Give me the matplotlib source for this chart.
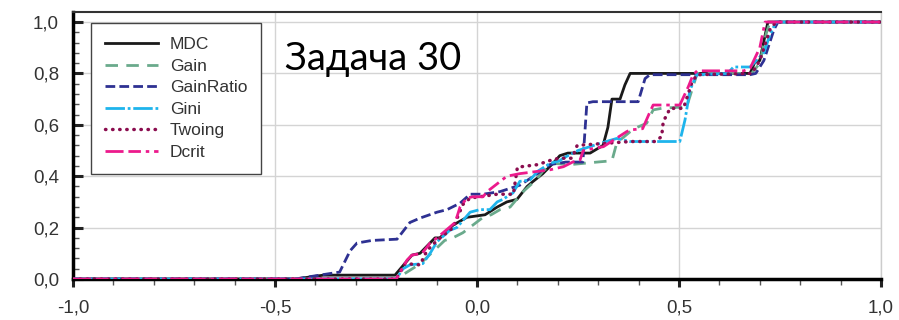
import matplotlib
matplotlib.use('Agg')
import matplotlib.pyplot as plt
from matplotlib.ticker import MultipleLocator

# curves (x, y)
mdc_x = [-1, -0.45, -0.38, -0.203, -0.161, -0.141, -0.104, -0.092, -0.059, -0.025, 0.02, 0.05, 0.074, 0.099, 0.124, 0.139,
         0.163, 0.188, 0.205, 0.225, 0.28, 0.312, 0.324, 0.334, 0.354, 0.366, 0.379, 0.676, 0.688, 0.70, 0.72, 1]
mdc_y = [0, 0, 0.015, 0.015, 0.093, 0.10, 0.16, 0.16, 0.21, 0.24, 0.25, 0.28, 0.30, 0.31, 0.36, 0.38,
         0.41, 0.45, 0.48, 0.49, 0.49, 0.52, 0.59, 0.70, 0.70, 0.755, 0.80, 0.80, 0.845, 0.85, 1.0, 1.0]

gain_x = [-1, -0.2, -0.17, -0.14, -0.12, -0.10, -0.08, -0.06, -0.035, -0.01, 0.015, 0.035, 0.057, 0.082, 0.114, 0.146, 0.163,
          0.189, 0.23, 0.304, 0.334, 0.346, 0.379, 0.396, 0.42, 0.436, 0.46, 0.519, 0.535, 0.545, 0.68, 0.70, 0.715, 0.725, 1]
gain_y = [0, 0, 0.03, 0.06, 0.09, 0.12, 0.15, 0.16, 0.18, 0.21, 0.24, 0.25, 0.27, 0.28, 0.34, 0.385, 0.42,
          0.45, 0.445, 0.456, 0.46, 0.53, 0.573, 0.59, 0.606, 0.658, 0.665, 0.67, 0.75, 0.80, 0.80, 0.84, 0.95, 1.0, 1.0]

gr_x = [-1, -0.45, -0.41, -0.34, -0.314, -0.297, -0.26, -0.198, -0.166, -0.141, -0.099, -0.074, -0.042, -0.017, 0.015, 0.057,
        0.106, 0.15, 0.18, 0.22, 0.262, 0.272, 0.287, 0.399, 0.416, 0.428, 0.676, 0.69, 0.71, 0.735, 0.745, 1]
gr_y = [0, 0, 0.01, 0.027, 0.11, 0.14, 0.15, 0.155, 0.22, 0.237, 0.26, 0.27, 0.295, 0.33, 0.33, 0.34,
        0.365, 0.41, 0.445, 0.455, 0.455, 0.685, 0.69, 0.69, 0.78, 0.795, 0.795, 0.80, 0.85, 0.97, 1.0, 1.0]

gini_x = [-1, -0.2, -0.183, -0.166, -0.134, -0.116, -0.099, -0.067, -0.05, -0.017, 0.007, 0.032, 0.05, 0.064, 0.089, 0.106, 0.131, 0.151,
          0.181, 0.205, 0.213, 0.25, 0.305, 0.346, 0.379, 0.502, 0.515, 0.527, 0.544, 0.62, 0.635, 0.676, 0.71, 0.725, 0.74, 1]
gini_y = [0, 0, 0.04, 0.055, 0.06, 0.10, 0.145, 0.19, 0.20, 0.26, 0.27, 0.27, 0.30, 0.31, 0.335, 0.38, 0.385, 0.42,
          0.45, 0.46, 0.47, 0.50, 0.528, 0.547, 0.535, 0.535, 0.62, 0.735, 0.795, 0.80, 0.825, 0.825, 0.88, 0.95, 1.0, 1.0]

twoing_x = [-1, -0.2, -0.178, -0.141, -0.124, -0.099, -0.059, -0.035, -0.017, 0.007, 0.05, 0.09, 0.10, 0.15, 0.188, 0.205,
            0.235, 0.248, 0.38, 0.44, 0.457, 0.461, 0.478, 0.511, 0.531, 0.544, 0.68, 0.70, 0.725, 0.74, 1]
twoing_y = [0, 0, 0.06, 0.055, 0.11, 0.15, 0.20, 0.29, 0.315, 0.32, 0.33, 0.33, 0.435, 0.445, 0.465, 0.47,
            0.47, 0.52, 0.535, 0.535, 0.554, 0.612, 0.664, 0.664, 0.76, 0.795, 0.80, 0.85, 0.97, 1.0, 1.0]

dcrit_x = [-1, -0.2, -0.173, -0.161, -0.136, -0.116, -0.099, -0.054, -0.042, -0.025, -0.01, 0.015, 0.025, 0.074, 0.106, 0.181, 0.214, 0.238,
           0.255, 0.263, 0.288, 0.313, 0.37, 0.379, 0.41, 0.428, 0.436, 0.502, 0.523, 0.535, 0.545, 0.66, 0.676, 0.70, 0.713, 1]
dcrit_y = [0, 0, 0.074, 0.093, 0.10, 0.14, 0.16, 0.22, 0.28, 0.315, 0.32, 0.32, 0.34, 0.40, 0.41, 0.425, 0.437, 0.456,
           0.463, 0.50, 0.508, 0.515, 0.573, 0.58, 0.585, 0.65, 0.677, 0.677, 0.748, 0.795, 0.81, 0.81, 0.82, 0.90, 1.0, 1.0]

xticks = [-1, -0.5, 0, 0.5, 1]
xtick_labels = ['-1,0', '-0,5', '0,0', '0,5', '1,0']
yticks = [0, 0.2, 0.4, 0.6, 0.8, 1.0]
ytick_labels = ['0,0', '0,2', '0,4', '0,6', '0,8', '1,0']

plt.rcParams['lines.scale_dashes'] = False
plt.rcParams['font.family'] = ['Liberation Sans', 'DejaVu Sans']

fig = plt.figure(figsize=(8.99, 3.2), dpi=100)
ax = fig.add_axes([73/899, 1-279/320, 808/899, 267/320])

ax.plot(mdc_x, mdc_y, color='#1a1a1a', lw=2.0, label='MDC', zorder=3)
ax.plot(gain_x, gain_y, color='#6aaa8c', lw=2.0, ls=(0, (9, 6)), label='Gain', zorder=3)
ax.plot(gr_x, gr_y, color='#2e3192', lw=2.0, ls=(0, (7, 3)), label='GainRatio', zorder=3)
ax.plot(gini_x, gini_y, color='#1eb4ec', lw=2.0, ls=(0, (14, 2, 2, 2)), label='Gini', zorder=3)
ax.plot(twoing_x, twoing_y, color='#8b0d4f', lw=2.5, ls=(0, (0.3, 4.8)), dash_capstyle='round',
        label='Twoing', zorder=3)
ax.plot(dcrit_x, dcrit_y, color='#ec1a8c', lw=2.0, ls=(0, (13, 3.5, 9, 3.5, 2.5, 3.5)), label='Dcrit', zorder=3)

ax.set_xlim(-1, 1)
ax.set_ylim(0, 1.039)
ax.set_xticks(xticks)
ax.set_xticklabels(xtick_labels)
ax.set_yticks(yticks)
ax.set_yticklabels(ytick_labels)
ax.xaxis.set_minor_locator(MultipleLocator(0.1))
ax.yaxis.set_minor_locator(MultipleLocator(0.04))
ax.grid(True, which='major', color='#d4d4d4', lw=1.0, zorder=0)
ax.set_axisbelow(True)

ax.tick_params(axis='x', which='major', direction='out', length=6, width=2.2, colors='#222222',
               labelsize=13.5, labelcolor='#333333', pad=9)
ax.tick_params(axis='x', which='minor', direction='out', length=4, width=1, colors='#555555')
ax.tick_params(axis='y', which='major', direction='in', length=7, width=2.2, colors='#222222',
               labelsize=13.5, labelcolor='#333333', pad=10)
ax.tick_params(axis='y', which='minor', direction='in', length=4, width=1, colors='#555555')

ax.spines['left'].set_linewidth(2.5)
ax.spines['bottom'].set_linewidth(2.5)
ax.spines['top'].set_linewidth(1.5)
ax.spines['top'].set_color('#333333')
ax.spines['right'].set_color('#cccccc')
ax.spines['right'].set_linewidth(1.0)

leg = ax.legend(loc='upper left', bbox_to_anchor=((91-73)/808, (279-23)/267), borderaxespad=0,
                fontsize=12.5, handlelength=3.05, handletextpad=0.7, labelspacing=0.37,
                borderpad=0.8, fancybox=False, framealpha=1, edgecolor='#444444')
leg.get_frame().set_linewidth(1.0)
for t in leg.get_texts():
    t.set_color('#333333')
leg.set_zorder(5)

fig.text(285/899, 1-59/320, 'Задача 30', fontsize=27.5, family=['Lato', 'DejaVu Sans'],
         ha='left', va='center', color='black')

fig.savefig('out.png', dpi=100)
